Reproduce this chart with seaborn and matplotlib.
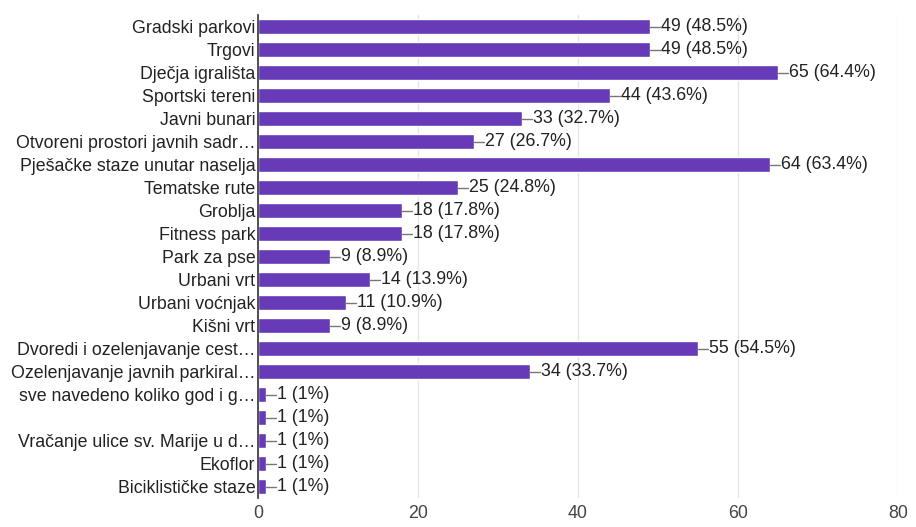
import matplotlib
matplotlib.use('Agg')
import matplotlib.pyplot as plt
import seaborn as sns
import pandas as pd

categories = ['Gradski parkovi', 'Trgovi', 'Dječja igrališta', 'Sportski tereni',
              'Javni bunari', 'Otvoreni prostori javnih sadr…',
              'Pješačke staze unutar naselja', 'Tematske rute', 'Groblja',
              'Fitness park', 'Park za pse', 'Urbani vrt', 'Urbani voćnjak',
              'Kišni vrt', 'Dvoredi i ozelenjavanje cest…',
              'Ozelenjavanje javnih parkiral…', 'sve navedeno koliko god i g…',
              ' ', 'Vračanje ulice sv. Marije u d…', 'Ekoflor',
              'Biciklističke staze']
counts = [49, 49, 65, 44, 33, 27, 64, 25, 18, 18, 9, 14, 11, 9, 55, 34, 1, 1, 1, 1, 1]
percents = ['48.5%', '48.5%', '64.4%', '43.6%', '32.7%', '26.7%', '63.4%', '24.8%',
            '17.8%', '17.8%', '8.9%', '13.9%', '10.9%', '8.9%', '54.5%', '33.7%',
            '1%', '1%', '1%', '1%', '1%']

df = pd.DataFrame({'label': categories, 'count': counts, 'pct': percents})

sns.set_style('white')
plt.rcParams['font.family'] = ['Arial', 'Liberation Sans', 'DejaVu Sans']

fig = plt.figure(figsize=(9.16, 5.27), dpi=100)
ax = fig.add_axes([0.2817, 0.055, 0.6987, 0.9165])

sns.barplot(data=df, x='count', y='label', color='#673ab7', saturation=1,
            width=0.66, ax=ax, orient='h')

ax.set_xlim(0, 80)
ax.set_ylim(len(categories) - 0.5, -0.5)
ax.set_xticks([0, 20, 40, 60, 80])
ax.xaxis.grid(True, color='#e6e6e6', linewidth=1)
ax.set_axisbelow(True)
ax.set_xlabel('')
ax.set_ylabel('')
for s in ['top', 'right', 'bottom']:
    ax.spines[s].set_visible(False)
ax.spines['left'].set_color('#333333')
ax.spines['left'].set_linewidth(1.2)
ax.tick_params(axis='y', length=0, pad=2, labelsize=12.8, labelcolor='#222222')
ax.tick_params(axis='x', length=0, pad=5, labelsize=12.8, labelcolor='#444444')

for i, (c, p) in enumerate(zip(counts, percents)):
    ax.plot([c, c + 1.3], [i, i], color='#777777', linewidth=1)
    ax.text(c + 1.4, i, f'{c} ({p})', va='center', ha='left', fontsize=12.8,
            color='#222222')

fig.savefig('out.png', dpi=100)
